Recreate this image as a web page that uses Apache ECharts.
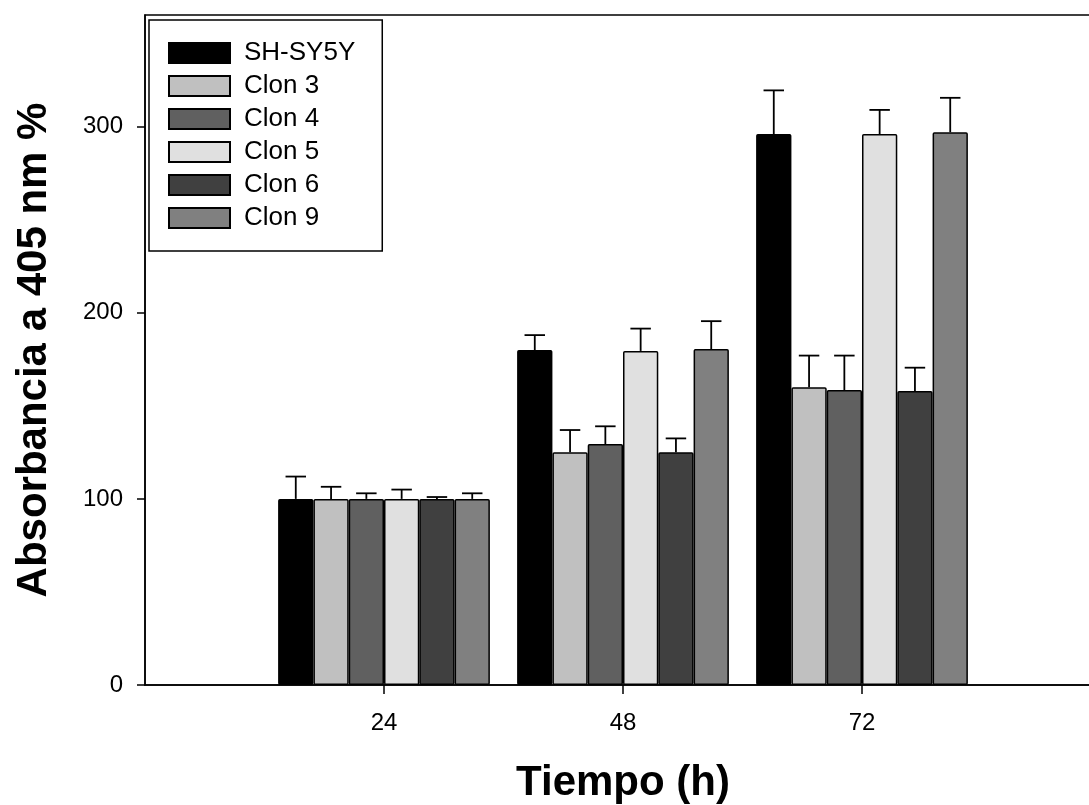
<!DOCTYPE html>
<html>
<head>
<meta charset="utf-8">
<script src="https://cdn.jsdelivr.net/npm/echarts@6/dist/echarts.min.js"></script>
<style>
  html, body { margin: 0; padding: 0; background: #ffffff; }
  #chart { width: 1089px; height: 805px; }
</style>
</head>
<body>
<div id="chart"></div>
<script>
// Category positions on the time axis (hours); 0 and 96 are empty padding slots
const categories = ['0', '24', '48', '72', '96'];
const labeledCategories = ['24', '48', '72'];
const seriesNames = ['SH-SY5Y', 'Clon 3', 'Clon 4', 'Clon 5', 'Clon 6', 'Clon 9'];
const seriesColors = ['#000000', '#c0c0c0', '#606060', '#e0e0e0', '#404040', '#808080'];

// Mean values at 24, 48, 72 h
const shsy5y = [100, 180, 296];
const clon3  = [100, 125, 160];
const clon4  = [100, 129.5, 158.5];
const clon5  = [100, 179.5, 296];
const clon6  = [100, 125, 158];
const clon9  = [100, 180.5, 297];

// Error (upper) amounts at 24, 48, 72 h
const errShsy5y = [12, 8, 23.5];
const errClon3  = [6.5, 12, 17];
const errClon4  = [3, 9.5, 18.5];
const errClon5  = [5, 12, 13];
const errClon6  = [1, 7.5, 12.5];
const errClon9  = [3, 15, 18.5];

const yTicks = [0, 100, 200, 300];

const values = [shsy5y, clon3, clon4, clon5, clon6, clon9];
const errors = [errShsy5y, errClon3, errClon4, errClon5, errClon6, errClon9];

const FONT = 'Liberation Sans, Arial, Helvetica, sans-serif';
const GAP = 0.114;

function padData(arr) {
  return [null].concat(arr).concat([null]);
}

const barSeries = seriesNames.map((name, s) => ({
  name: name,
  type: 'bar',
  data: padData(values[s]),
  barGap: '0%',
  barCategoryGap: (GAP * 100) + '%',
  itemStyle: { color: seriesColors[s], borderColor: '#000000', borderWidth: 1.5, borderRadius: 1 },
  emphasis: { disabled: true },
  animation: false
}));

const errData = [];
for (let s = 0; s < values.length; s++) {
  for (let i = 0; i < values[s].length; i++) {
    errData.push([i + 1, values[s][i], errors[s][i], s]);
  }
}

const errSeries = {
  type: 'custom',
  name: 'err',
  data: errData,
  encode: { x: 0, y: 1 },
  z: 5,
  animation: false,
  silent: true,
  renderItem: function (params, api) {
    const cat = api.value(0);
    const v = api.value(1);
    const e = api.value(2);
    const s = api.value(3);
    const band = api.size([1, 0])[0];
    const barW = band * (1 - GAP) / seriesNames.length;
    const base = api.coord([cat, v]);
    const top = api.coord([cat, v + e]);
    const x = base[0] + (s - (seriesNames.length - 1) / 2) * barW;
    const capHalf = barW * 0.29;
    return {
      type: 'group',
      children: [
        { type: 'line', shape: { x1: x, y1: base[1], x2: x, y2: top[1] },
          style: { stroke: '#000000', lineWidth: 1.8 } },
        { type: 'line', shape: { x1: x - capHalf, y1: top[1], x2: x + capHalf, y2: top[1] },
          style: { stroke: '#000000', lineWidth: 1.8 } }
      ]
    };
  }
};

const chart = echarts.init(document.getElementById('chart'), null, { renderer: 'canvas' });
chart.setOption({
  backgroundColor: '#ffffff',
  animation: false,
  textStyle: { fontFamily: FONT },
  grid: {
    left: 145, top: 15, width: 956, height: 670,
    outerBoundsMode: 'none',
    containLabel: false,
    show: true, borderColor: '#000000', borderWidth: 1.5, backgroundColor: 'transparent'
  },
  legend: {
    data: seriesNames,
    orient: 'vertical',
    left: 149, top: 20,
    backgroundColor: '#ffffff',
    borderColor: '#000000', borderWidth: 1.5,
    padding: [20, 27, 20, 19],
    itemWidth: 61, itemHeight: 20, itemGap: 7,
    icon: 'rect',
    textStyle: { fontFamily: FONT, fontSize: 26, color: '#000000', padding: [0, 0, 0, 9] },
    selectedMode: false
  },
  xAxis: {
    type: 'category',
    data: categories,
    boundaryGap: false,
    name: 'Tiempo (h)',
    nameLocation: 'middle',
    nameGap: 77,
    nameTextStyle: { fontFamily: FONT, fontSize: 42, fontWeight: 'bold', color: '#000000' },
    axisLine: { lineStyle: { color: '#000000', width: 1.5 } },
    axisTick: { show: true, length: 9, lineStyle: { color: '#000000', width: 1.5 },
      interval: function (i, v) { return labeledCategories.indexOf(v) >= 0; } },
    axisLabel: { fontFamily: FONT, fontSize: 24, color: '#000000', margin: 26,
      interval: function (i, v) { return labeledCategories.indexOf(v) >= 0; } },
    splitLine: { show: false }
  },
  yAxis: {
    type: 'value',
    min: 0, max: 360,
    name: 'Absorbancia a 405 nm %',
    nameLocation: 'middle',
    nameRotate: 90,
    nameGap: 90,
    nameTextStyle: { fontFamily: FONT, fontSize: 42, fontWeight: 'bold', color: '#000000' },
    axisLine: { show: true, lineStyle: { color: '#000000', width: 1.5 } },
    axisTick: { show: true, length: 8, customValues: yTicks, lineStyle: { color: '#000000', width: 1.5 } },
    axisLabel: { fontFamily: FONT, fontSize: 24, color: '#000000', margin: 22, customValues: yTicks },
    splitLine: { show: false }
  },
  series: barSeries.concat([errSeries])
});
</script>
</body>
</html>
